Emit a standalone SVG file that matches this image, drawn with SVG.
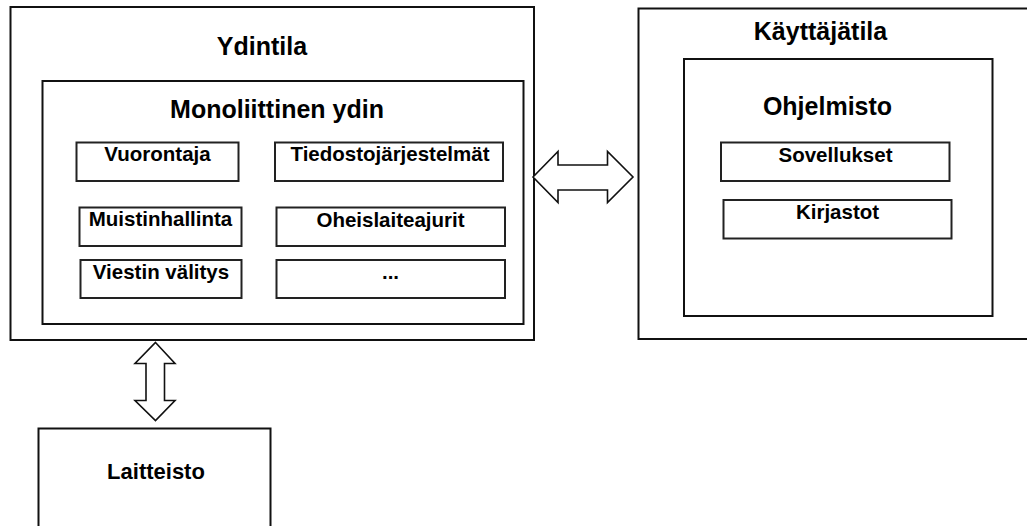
<svg xmlns="http://www.w3.org/2000/svg" width="1027" height="526" viewBox="0 0 1027 526">
<style>
.box{fill:#fff;stroke:#111;stroke-width:2}
.sbox{fill:#fff;stroke:#222;stroke-width:2}
.arrow{fill:#fff;stroke:#111;stroke-width:1.6;stroke-linejoin:miter}
.t{font-family:"Liberation Sans",Arial,sans-serif;font-weight:bold;fill:#000;text-anchor:middle}
.big{font-size:25px}
.sm{font-size:20.5px}
</style>
<rect width="1027" height="526" fill="#fff"/>
<g id="ydintila">
<rect class="box" x="10.5" y="7" width="523.5" height="333"/>
<text class="t big" x="262" y="55">Ydintila</text>
</g>
<g id="monoliittinen">
<rect class="box" x="42.5" y="81" width="481" height="243"/>
<text class="t big" x="277" y="118">Monoliittinen ydin</text>
</g>
<g id="vuorontaja">
<rect class="sbox" x="76.5" y="142.5" width="162" height="38.5"/>
<text class="t sm" x="157.5" y="161">Vuorontaja</text>
</g>
<g id="muistinhallinta">
<rect class="sbox" x="79.5" y="207.5" width="162" height="38.5"/>
<text class="t sm" x="160.5" y="226">Muistinhallinta</text>
</g>
<g id="viestin">
<rect class="sbox" x="80.5" y="260" width="161" height="38"/>
<text class="t sm" x="161" y="278.5">Viestin välitys</text>
</g>
<g id="tiedosto">
<rect class="sbox" x="275" y="142.5" width="228" height="38.5"/>
<text class="t sm" x="390" y="161">Tiedostojärjestelmät</text>
</g>
<g id="oheislaite">
<rect class="sbox" x="276.5" y="207.5" width="228.5" height="38.5"/>
<text class="t sm" x="390.5" y="226.5">Oheislaiteajurit</text>
</g>
<g id="muut">
<rect class="sbox" x="276.5" y="260" width="228.5" height="38"/>
<text class="t sm" x="390.5" y="279">...</text>
</g>
<g id="kayttajatila">
<rect class="box" x="638.5" y="8.5" width="390" height="330.5"/>
<text class="t big" x="820.5" y="40">Käyttäjätila</text>
</g>
<g id="ohjelmisto">
<rect class="box" x="684" y="59" width="308.5" height="257"/>
<text class="t big" x="827.5" y="115">Ohjelmisto</text>
</g>
<g id="sovellukset">
<rect class="sbox" x="721" y="142.5" width="228.5" height="38.5"/>
<text class="t sm" x="835.5" y="161.5">Sovellukset</text>
</g>
<g id="kirjastot">
<rect class="sbox" x="723.5" y="200" width="228" height="38.5"/>
<text class="t sm" x="837.5" y="218.5">Kirjastot</text>
</g>
<g id="laitteisto">
<rect class="box" x="38.5" y="428.5" width="232" height="110"/>
<text class="t" style="font-size:22px" x="156" y="478.5">Laitteisto</text>
</g>
<g id="connectors">
<path class="arrow" d="M533,177 L558,151.5 L558,165 L607.5,165 L607.5,151.5 L633,177 L607.5,202.5 L607.5,190 L558,190 L558,202.5 Z"/>
<path class="arrow" d="M155.5,342.5 L175,363.5 L164.5,363.5 L164.5,400.5 L175,400.5 L155.5,420.5 L135,400.5 L146,400.5 L146,363.5 L135,363.5 Z"/>
</g>
</svg>
